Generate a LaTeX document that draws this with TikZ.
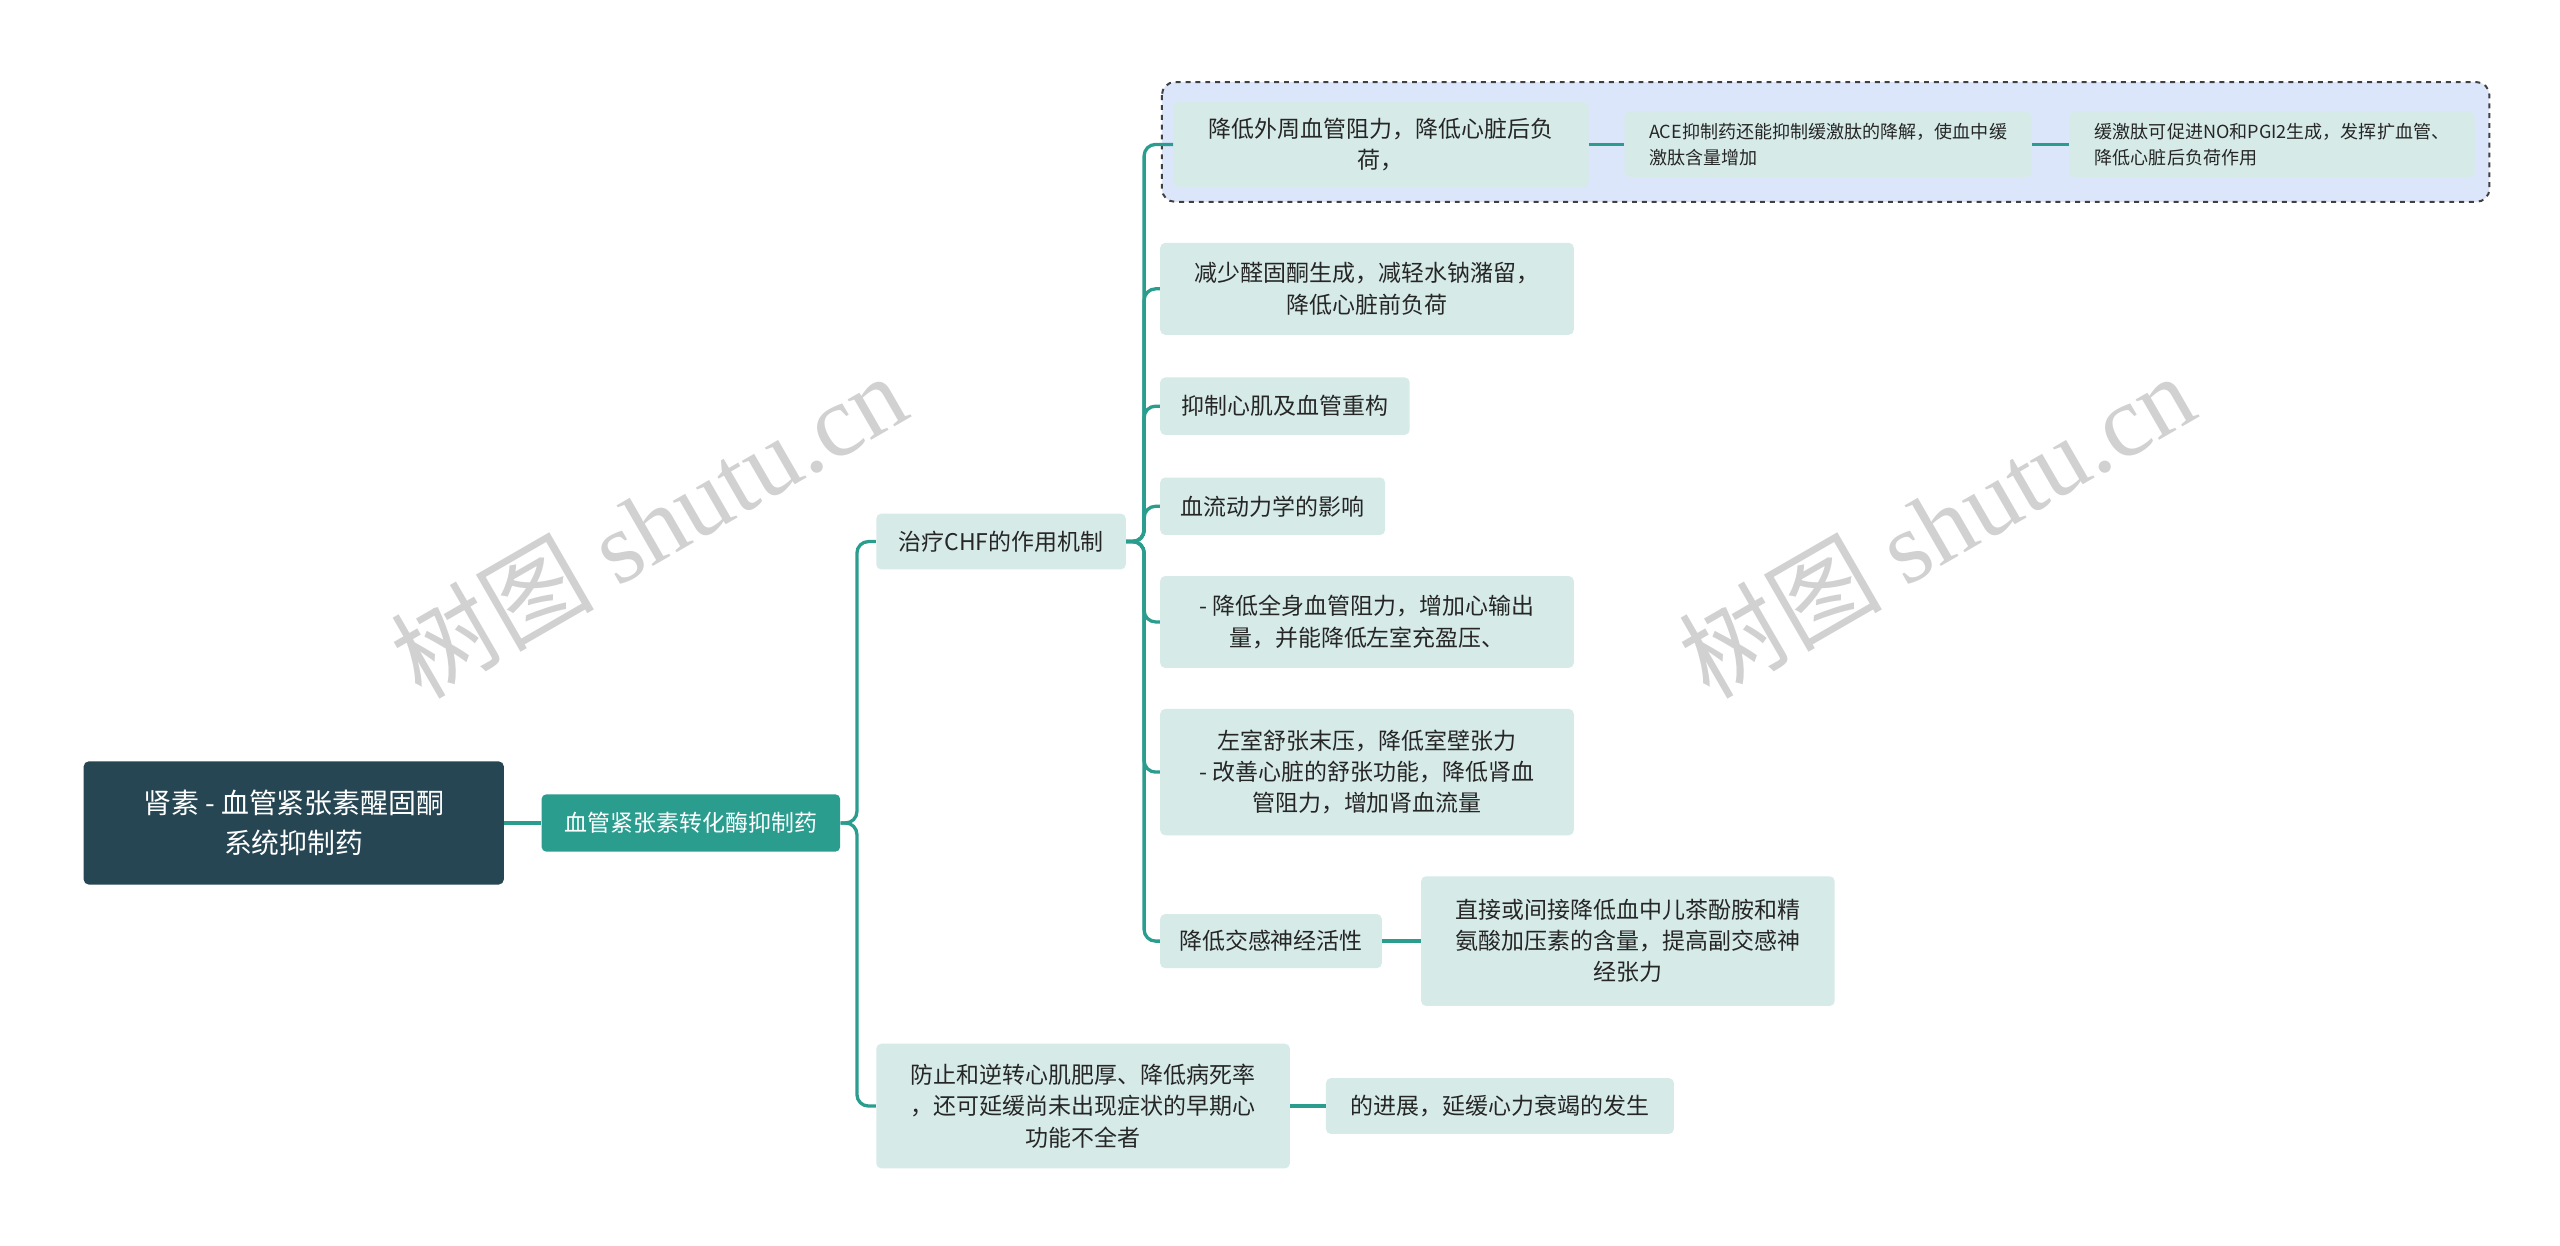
\documentclass[tikz,border=0pt]{standalone}
\usepackage{fontspec}
\setmainfont{Noto Sans CJK SC}
\newfontfamily\wmfont{Liberation Serif}
\definecolor{teal1}{HTML}{2A9D8F}
\definecolor{dark}{HTML}{264653}
\definecolor{lite}{HTML}{D6EBE8}
\definecolor{grp}{HTML}{DCE6FA}
\tikzset{
 box/.style={rectangle,rounded corners=3pt,fill=lite,inner sep=0pt,align=center,font=\fontsize{14}{19}\selectfont,text=black!85},
 sbox/.style={box,font=\fontsize{11}{16}\selectfont,align=left},
 conn/.style={draw=teal1,line width=2pt,rounded corners=7pt},
 wm/.style={text=black!18,font=\fontsize{62}{64}\selectfont,rotate=30}
}
\begin{document}
\begin{tikzpicture}[x=1pt,y=-1pt]
\useasboundingbox[fill=white] (0,0) rectangle (1560,759);
\node[wm] (w1) at (395,320) {树图 {\wmfont shutu.cn}};
\node[wm] (w2) at (1180,320) {树图 {\wmfont shutu.cn}};
\draw[dashed,line width=1.2pt,draw=black!75,fill=grp,rounded corners=8pt] (708,50) rectangle (1517,123);
\node[box,fill=dark,text=white,minimum width=256pt,minimum height=75pt,font=\fontsize{17}{24}\selectfont] (root) at (179,501.5) {肾素 - 血管紧张素醒固酮\\系统抑制药};
\node[box,fill=teal1,text=white,minimum width=182pt,minimum height=35pt] (l1) at (421,501.5) {血管紧张素转化酶抑制药};
\node[box,minimum width=152pt,minimum height=34pt] (a) at (610,330) {治疗CHF的作用机制};
\node[box,minimum width=252pt,minimum height=76pt] (b) at (660,674) {防止和逆转心肌肥厚、降低病死率\\，还可延缓尚未出现症状的早期心\\功能不全者};
\node[box,minimum width=212pt,minimum height=34pt] (bc) at (914,674) {的进展，延缓心力衰竭的发生};
\node[box,minimum width=253pt,minimum height=52pt] (c1) at (841.5,88) {降低外周血管阻力，降低心脏后负\\荷，};
\node[sbox,minimum width=248pt,minimum height=40pt] (c1a) at (1114,88) {ACE抑制药还能抑制缓激肽的降解，使血中缓\\激肽含量增加};
\node[sbox,minimum width=247pt,minimum height=40pt] (c1b) at (1384.5,88) {缓激肽可促进NO和PGI2生成，发挥扩血管、\\降低心脏后负荷作用};
\node[box,minimum width=252pt,minimum height=56pt] (c2) at (833,176) {减少醛固酮生成，减轻水钠潴留，\\降低心脏前负荷};
\node[box,minimum width=152pt,minimum height=35pt] (c3) at (783,247.5) {抑制心肌及血管重构};
\node[box,minimum width=137pt,minimum height=35pt] (c4) at (775.5,308.5) {血流动力学的影响};
\node[box,minimum width=252pt,minimum height=56pt] (c5) at (833,379) {- 降低全身血管阻力，增加心输出\\量，并能降低左室充盈压、};
\node[box,minimum width=252pt,minimum height=77pt] (c6) at (833,470.5) {左室舒张末压，降低室壁张力\\- 改善心脏的舒张功能，降低肾血\\管阻力，增加肾血流量};
\node[box,minimum width=135pt,minimum height=33pt] (c7) at (774.5,573.5) {降低交感神经活性};
\node[box,minimum width=252pt,minimum height=79pt] (c7a) at (992,573.5) {直接或间接降低血中儿茶酚胺和精\\氨酸加压素的含量，提高副交感神\\经张力};
\draw[conn] (root.east) -- (l1.west);
\foreach \t in {a,b} \draw[conn] (l1.east) -- ++(10,0) |- (\t.west);
\foreach \t in {c1,c2,c3,c4,c5,c6,c7} \draw[conn] (a.east) -- ++(11,0) |- (\t.west);
\draw[conn] (c1.east) -- (c1a.west);
\draw[conn] (c1a.east) -- (c1b.west);
\draw[conn] (c7.east) -- (c7a.west);
\draw[conn] (b.east) -- (bc.west);
\end{tikzpicture}
\end{document}
